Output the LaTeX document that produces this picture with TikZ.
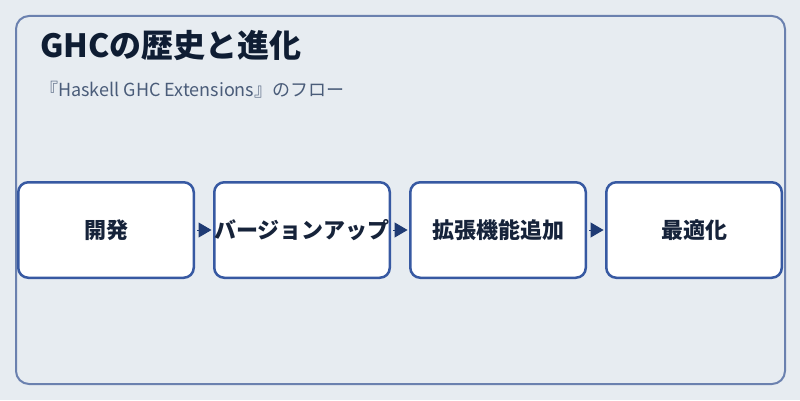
\documentclass[tikz,border=0pt]{standalone}
\usepackage{fontspec}
\setmainfont{Noto Sans CJK JP}
\usetikzlibrary{arrows.meta,positioning}
\definecolor{bgcol}{HTML}{E7ECF1}
\definecolor{framecol}{HTML}{6B81AF}
\definecolor{boxline}{HTML}{3759A2}
\definecolor{boxtext}{HTML}{16233A}
\definecolor{arrowcol}{HTML}{1F3B74}
\definecolor{titlecol}{HTML}{0F1D33}
\definecolor{subcol}{HTML}{4A5C79}
\begin{document}
\begin{tikzpicture}[x=1pt,y=1pt,node distance=18pt,
  stepbox/.style={draw=boxline,line width=2.5pt,fill=white,rounded corners=10pt,minimum width=175.5pt,minimum height=95.5pt,inner sep=0pt,text=boxtext,font=\fontsize{22}{26}\selectfont\bfseries},
  flow/.style={draw=arrowcol,line width=1pt,shorten <=2pt,shorten >=1.5pt,-{Triangle[length=13pt,width=15pt,fill=arrowcol]}}]

\fill[bgcol] (0,0) rectangle (800,400);
\draw[framecol,line width=2pt,rounded corners=13pt] (16,16) rectangle (785,384);

\node[anchor=base west,inner sep=0pt,text=titlecol,font=\fontsize{32}{36}\selectfont\bfseries] (title) at (40,343) {GHCの歴史と進化};
\node[anchor=base west,inner sep=0pt,text=subcol,font=\fontsize{18}{22}\selectfont] (sub) at (40,304) {『Haskell GHC Extensions』のフロー};

% flow of steps
\node[stepbox] (dev) at (106,170) {開発};
\node[stepbox,right=of dev] (ver) {バージョンアップ};
\node[stepbox,right=of ver] (ext) {拡張機能追加};
\node[stepbox,right=of ext] (opt) {最適化};

\draw[flow] (dev) -- (ver);
\draw[flow] (ver) -- (ext);
\draw[flow] (ext) -- (opt);
\end{tikzpicture}
\end{document}
